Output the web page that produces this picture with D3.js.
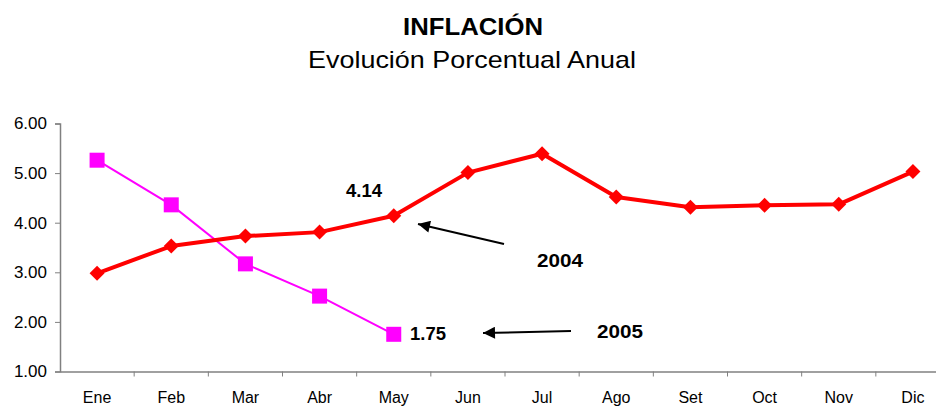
<!DOCTYPE html>
<html><head><meta charset="utf-8">
<script src="https://cdn.jsdelivr.net/npm/d3@7"></script>
<style>body{margin:0;background:#fff}svg{display:block;font-family:"Liberation Sans",Arial,sans-serif}</style>
</head><body><svg width="936" height="407"></svg>
<script>
const months = ["Ene","Feb","Mar","Abr","May","Jun","Jul","Ago","Set","Oct","Nov","Dic"];
const values2004 = [2.98,3.53,3.73,3.81,4.14,5.01,5.39,4.52,4.31,4.35,4.37,5.03];
const values2005 = [5.26,4.36,3.17,2.52,1.75];
const yTicks = [1,2,3,4,5,6];

const svg = d3.select("svg");
const x = d3.scaleBand().domain(months).range([60, 950]);
const y = d3.scaleLinear().domain([1, 6]).range([371.5, 123.5]);

svg.append("text").attr("x",473).attr("y",35).attr("text-anchor","middle")
  .attr("font-size",23).attr("font-weight","bold")
  .attr("textLength",140).attr("lengthAdjust","spacingAndGlyphs").text("INFLACIÓN");
svg.append("text").attr("x",472).attr("y",68).attr("text-anchor","middle")
  .attr("font-size",24).attr("textLength",328).attr("lengthAdjust","spacingAndGlyphs")
  .text("Evolución Porcentual Anual");

const yAxis = svg.append("g").attr("transform","translate(60,0)")
  .call(d3.axisLeft(y).tickValues(yTicks).tickFormat(d3.format(".2f")).tickSize(5).tickPadding(8));
const xAxis = svg.append("g").attr("transform","translate(0,371.5)")
  .call(d3.axisBottom(x).tickSize(0).tickPadding(20));
[yAxis, xAxis].forEach(g => {
  g.select(".domain").attr("stroke","#808080").attr("stroke-width",1.5);
  g.selectAll(".tick line").attr("stroke","#808080");
  g.selectAll("text").attr("fill","#000").attr("font-family","Liberation Sans, Arial, sans-serif");
});
yAxis.selectAll("text").attr("font-size",17);
xAxis.selectAll("text").attr("font-size",16);
// x ticks at band boundaries
xAxis.selectAll(".bt").data(months.slice(1)).enter().append("line")
  .attr("x1",d=>x(d)).attr("x2",d=>x(d)).attr("y1",0).attr("y2",5).attr("stroke","#808080");

const cx = d => x(d) + x.bandwidth()/2;
const line = d3.line().x((d,i)=>cx(months[i])).y(d=>y(d));

svg.append("path").datum(values2005).attr("d",line).attr("fill","none")
  .attr("stroke","#ff00ff").attr("stroke-width",2);
svg.selectAll(".sq").data(values2005).enter().append("rect")
  .attr("x",(d,i)=>cx(months[i])-7.5).attr("y",d=>y(d)-7.5).attr("width",15).attr("height",15)
  .attr("fill","#ff00ff");

svg.append("path").datum(values2004).attr("d",line).attr("fill","none")
  .attr("stroke","#ff0000").attr("stroke-width",4).attr("stroke-linejoin","round");
svg.selectAll(".dm").data(values2004).enter().append("path")
  .attr("d","M0,-7.5L7.5,0L0,7.5L-7.5,0Z")
  .attr("transform",(d,i)=>`translate(${cx(months[i])},${y(d)})`)
  .attr("fill","#ff0000");

// annotations
svg.append("defs").append("marker").attr("id","ah").attr("viewBox","0 0 10 10")
  .attr("refX",10).attr("refY",5).attr("markerWidth",20).attr("markerHeight",12)
  .attr("markerUnits","userSpaceOnUse").attr("orient","auto")
  .append("path").attr("d","M0,0L10,5L0,10Z").attr("fill","#000");
const arrows = [[504,244,418,224],[571,331,483,333]];
svg.selectAll(".ar").data(arrows).enter().append("line")
  .attr("x1",d=>d[0]).attr("y1",d=>d[1]).attr("x2",d=>d[2]).attr("y2",d=>d[3])
  .attr("stroke","#000").attr("stroke-width",2).attr("marker-end","url(#ah)");

const labels = [["4.14",346,197,18,36],["1.75",410,340,18,36],["2004",537,267,19,46],["2005",597,338,19,46]];
svg.selectAll(".lb").data(labels).enter().append("text")
  .attr("x",d=>d[1]).attr("y",d=>d[2]).attr("font-size",d=>d[3]).attr("font-weight","bold")
  .attr("textLength",d=>d[4]).attr("lengthAdjust","spacingAndGlyphs")
  .text(d=>d[0]);
</script></body></html>
